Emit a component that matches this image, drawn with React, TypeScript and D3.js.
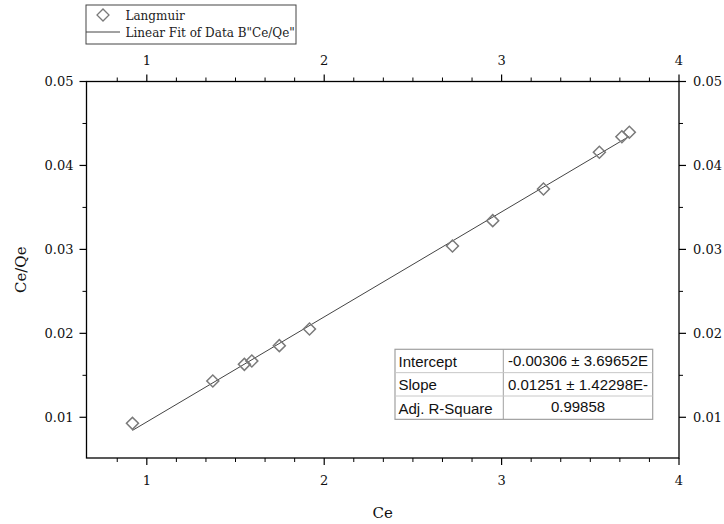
import React from "react";
import * as d3 from "d3";

// ---- data ----
const ceValues = [0.919, 1.372, 1.55, 1.592, 1.747, 1.917, 2.723, 2.95, 3.236, 3.551, 3.678, 3.72];
const ceQeValues = [0.00928, 0.01432, 0.01631, 0.01671, 0.01853, 0.02052, 0.03041, 0.03342, 0.03719, 0.04157, 0.04342, 0.04395];
const fitIntercept = -0.00306;
const fitSlope = 0.01251;
const xTickValues = [1, 2, 3, 4];
const yTickValues = [0.01, 0.02, 0.03, 0.04, 0.05];
const tableLabels = ["Intercept", "Slope", "Adj. R-Square"];
const tableValues = ["-0.00306 \u00b1 3.69652E", "0.01251 \u00b1 1.42298E-", "0.99858"];
const legendLabels = ["Langmuir", 'Linear Fit of Data B"Ce/Qe"'];

const W = 724;
const H = 524;
const SERIF = "'DejaVu Serif', serif";
const SANS = "'Liberation Sans', Arial, sans-serif";

export default function App() {
  const x = d3.scaleLinear().domain([0.66, 4]).range([86.5, 679]);
  const y = d3.scaleLinear().domain([0.00515, 0.05]).range([458, 81.5]);
  const [x0, x1] = x.range();
  const [yb, yt] = y.range();

  const xMinor: number[] = [];
  for (let k = 0; k < 4; k++) {
    for (let j = 1; j < 6; j++) {
      const v = k + j / 6;
      if (v > 0.67 && v < 4) xMinor.push(v);
    }
  }
  const yMinor = yTickValues.map((v) => v - 0.005).filter((v) => v > y.domain()[0]);

  const points = ceValues.map((c, i) => ({ c, q: ceQeValues[i] }));
  const diamond = d3.symbol().type(d3.symbolSquare).size(72)();
  const fitX = d3.extent(ceValues) as [number, number];
  const fitLine = d3
    .line<number>()
    .x((d) => x(d))
    .y((d) => y(fitIntercept + fitSlope * d))(fitX);

  const majorLen = 7;
  const minorLen = 4;

  // table geometry
  const tX = 395, tY = 349.3, tW = 257.7, rowH = 23.35, colX = 503.3;

  return (
    <svg width={W} height={H} style={{ position: "absolute", left: 0, top: 0, background: "#fff" }}>
      <rect x={0} y={0} width={W} height={H} fill="#fff" />
      {/* frame */}
      <rect x={x0} y={yt} width={x1 - x0} height={yb - yt} fill="none" stroke="#000" strokeWidth={1.3} />

      {/* x ticks bottom & top */}
      {xTickValues.map((v) => (
        <g key={"xt" + v}>
          <line x1={x(v)} x2={x(v)} y1={yb} y2={yb + majorLen} stroke="#000" strokeWidth={1.2} />
          <line x1={x(v)} x2={x(v)} y1={yt} y2={yt - majorLen} stroke="#000" strokeWidth={1.2} />
          <text x={x(v)} y={yb + 27} textAnchor="middle" fontFamily={SERIF} fontSize={13} fill="#111">
            {v}
          </text>
          <text x={x(v)} y={yt - 16.5} textAnchor="middle" fontFamily={SERIF} fontSize={13} fill="#111">
            {v}
          </text>
        </g>
      ))}
      {xMinor.map((v) => (
        <g key={"xm" + v}>
          <line x1={x(v)} x2={x(v)} y1={yb} y2={yb + minorLen} stroke="#000" strokeWidth={1} />
          <line x1={x(v)} x2={x(v)} y1={yt} y2={yt - minorLen} stroke="#000" strokeWidth={1} />
        </g>
      ))}

      {/* y ticks left & right */}
      {yTickValues.map((v) => (
        <g key={"yt" + v}>
          <line x1={x0} x2={x0 - majorLen} y1={y(v)} y2={y(v)} stroke="#000" strokeWidth={1.2} />
          <line x1={x1} x2={x1 + majorLen} y1={y(v)} y2={y(v)} stroke="#000" strokeWidth={1.2} />
          <text x={x0 - 13} y={y(v) + 4.5} textAnchor="end" fontFamily={SERIF} fontSize={13} fill="#111">
            {d3.format(".2f")(v)}
          </text>
          <text x={x1 + 14} y={y(v) + 4.5} textAnchor="start" fontFamily={SERIF} fontSize={13} fill="#111">
            {d3.format(".2f")(v)}
          </text>
        </g>
      ))}
      {yMinor.map((v) => (
        <g key={"ym" + v}>
          <line x1={x0} x2={x0 - minorLen} y1={y(v)} y2={y(v)} stroke="#000" strokeWidth={1} />
          <line x1={x1} x2={x1 + minorLen} y1={y(v)} y2={y(v)} stroke="#000" strokeWidth={1} />
        </g>
      ))}

      {/* axis titles */}
      <text x={(x0 + x1) / 2} y={518} textAnchor="middle" fontFamily={SERIF} fontSize={15} fill="#111">
        Ce
      </text>
      <text
        transform={`translate(26,${(yt + yb) / 2}) rotate(-90)`}
        textAnchor="middle"
        fontFamily={SERIF}
        fontSize={15}
        fill="#111"
      >
        Ce/Qe
      </text>

      {/* fit line */}
      <path d={fitLine || ""} fill="none" stroke="#444" strokeWidth={1} />

      {/* data points */}
      {points.map((p, i) => (
        <path
          key={"p" + i}
          d={diamond || ""}
          transform={`translate(${x(p.c)},${y(p.q)}) rotate(45)`}
          fill="none"
          stroke="#7a7a7a"
          strokeWidth={1.5}
        />
      ))}

      {/* legend */}
      <rect x={86} y={5} width={210} height={39} fill="#fff" stroke="#444" strokeWidth={1} />
      <path d={diamond || ""} transform="translate(103,15) rotate(45)" fill="none" stroke="#7a7a7a" strokeWidth={1.3} />
      <line x1={86} x2={120} y1={32} y2={32} stroke="#444" strokeWidth={1} />
      <text x={125.5} y={19.5} fontFamily={SERIF} fontSize={12} fill="#222">
        {legendLabels[0]}
      </text>
      <text x={125.5} y={37} fontFamily={SERIF} fontSize={12} fill="#222">
        {legendLabels[1]}
      </text>

      {/* fit table */}
      <rect x={tX} y={tY} width={tW} height={rowH * 3} fill="#fff" stroke="#a0a0a0" strokeWidth={1.2} />
      <line x1={colX} x2={colX} y1={tY} y2={tY + rowH * 3} stroke="#a0a0a0" strokeWidth={1} />
      {[1, 2].map((r) => (
        <line key={"tr" + r} x1={tX} x2={tX + tW} y1={tY + rowH * r} y2={tY + rowH * r} stroke="#c8c8c8" strokeWidth={1} />
      ))}
      {tableLabels.map((t, r) => (
        <text key={"tl" + r} x={tX + 3.5} y={tY + rowH * r + 17.5} fontFamily={SANS} fontSize={15} fill="#111">
          {t}
        </text>
      ))}
      {tableValues.map((t, r) => (
        <text
          key={"tv" + r}
          x={(colX + tX + tW) / 2}
          y={tY + rowH * r + (r === 2 ? 15.5 : 17)}
          textAnchor="middle"
          fontFamily={SANS}
          fontSize={15}
          fill="#111"
        >
          {t}
        </text>
      ))}
    </svg>
  );
}
